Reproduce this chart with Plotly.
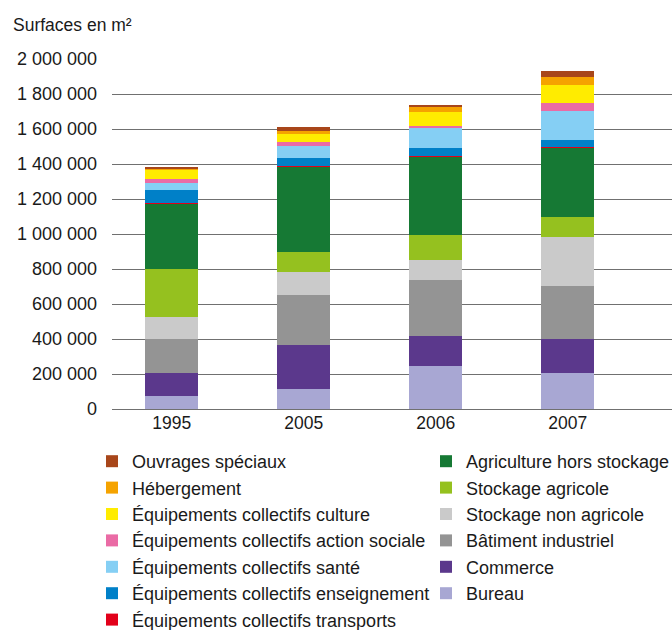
import plotly.graph_objects as go

years = ["1995", "2005", "2006", "2007"]

# stacked from bottom to top
series_names = [
    "Bureau",
    "Commerce",
    "Bâtiment industriel",
    "Stockage non agricole",
    "Stockage agricole",
    "Agriculture hors stockage",
    "Équipements collectifs transports",
    "Équipements collectifs enseignement",
    "Équipements collectifs santé",
    "Équipements collectifs action sociale",
    "Équipements collectifs culture",
    "Hébergement",
    "Ouvrages spéciaux",
]

bureau = [76000, 114000, 244000, 206000]
commerce = [130000, 254000, 175000, 196000]
batiment_industriel = [196000, 286000, 317000, 303000]
stockage_non_agricole = [124000, 128000, 114000, 279000]
stockage_agricole = [276000, 116000, 145000, 112000]
agriculture_hors_stockage = [370000, 488000, 448000, 398000]
eq_transports = [4000, 4000, 4000, 4000]
eq_enseignement = [76000, 47000, 47000, 39000]
eq_sante = [40000, 67000, 115000, 167000]
eq_action_sociale = [23000, 19000, 11000, 42000]
eq_culture = [52000, 51000, 80000, 107000]
hebergement = [8000, 16000, 27000, 45000]
ouvrages_speciaux = [9000, 19000, 8000, 31000]

series_values = [
    bureau, commerce, batiment_industriel, stockage_non_agricole,
    stockage_agricole, agriculture_hors_stockage, eq_transports,
    eq_enseignement, eq_sante, eq_action_sociale, eq_culture,
    hebergement, ouvrages_speciaux,
]

colors = [
    "#A8A7D3", "#5B388C", "#949494", "#CACACA", "#95C11F", "#167934",
    "#E2001A", "#0080C8", "#85CFF4", "#EA6BA5", "#FFEC00", "#F5A300",
    "#A8461A",
]

legend_ids = ["legend2"] * 6 + ["legend"] * 7

FONT = "Liberation Sans, Arial, sans-serif"
TXT = "#1a1a1a"

fig = go.Figure()
for name, vals, col, lg in zip(series_names, series_values, colors, legend_ids):
    fig.add_trace(go.Bar(
        x=years, y=vals, name=name,
        marker=dict(color=col, line=dict(width=0)),
        width=0.4, legend=lg,
    ))

W, H = 672, 630
L, R, T, B = 112, 0, 59, 221
plot_w = W - L - R
plot_h = H - T - B

def px_to_paper_x(px):
    return (px - L) / plot_w

def px_to_paper_y(py):
    return 1 - (py - T) / plot_h

legend_top = 1 - 443 / H

fig.update_layout(
    width=W, height=H,
    margin=dict(l=L, r=R, t=T, b=B, pad=0, autoexpand=False),
    barmode="stack",
    paper_bgcolor="white",
    plot_bgcolor="white",
    separators=", ",
    font=dict(family=FONT, size=18, color=TXT),
    xaxis=dict(
        type="category",
        range=[-0.453, 3.789],
        showgrid=False, zeroline=False, showline=False,
        ticks="", tickfont=dict(size=17.5, color=TXT),
        ticklabelstandoff=1,
    ),
    yaxis=dict(
        range=[0, 2000000],
        dtick=200000,
        tickformat=",d",
        showgrid=True, gridcolor="#707070", gridwidth=1,
        zeroline=True, zerolinecolor="#707070", zerolinewidth=1,
        showline=False, ticks="",
        tickfont=dict(size=18, color=TXT),
        ticklabelstandoff=14,
    ),
    legend=dict(
        xref="container", yref="container",
        x=92 / W, y=legend_top,
        xanchor="left", yanchor="top",
        traceorder="reversed",
        font=dict(size=18, color=TXT),
        bgcolor="rgba(0,0,0,0)",
        tracegroupgap=0,
    ),
    legend2=dict(
        xref="container", yref="container",
        x=426 / W, y=legend_top,
        xanchor="left", yanchor="top",
        traceorder="reversed",
        font=dict(size=18, color=TXT),
        bgcolor="rgba(0,0,0,0)",
        tracegroupgap=0,
    ),
    annotations=[
        dict(
            text="Surfaces en m²",
            xref="paper", yref="paper",
            x=px_to_paper_x(11), y=px_to_paper_y(25),
            xanchor="left", yanchor="middle",
            showarrow=False,
            font=dict(size=17.5, color=TXT),
        )
    ],
)

# remove the default page margin so the 672x630 figure fills the window exactly
fig.write_html(
    "out.html",
    config={"displayModeBar": False},
    post_script="document.body.style.margin='0';document.body.style.overflow='hidden';",
)
